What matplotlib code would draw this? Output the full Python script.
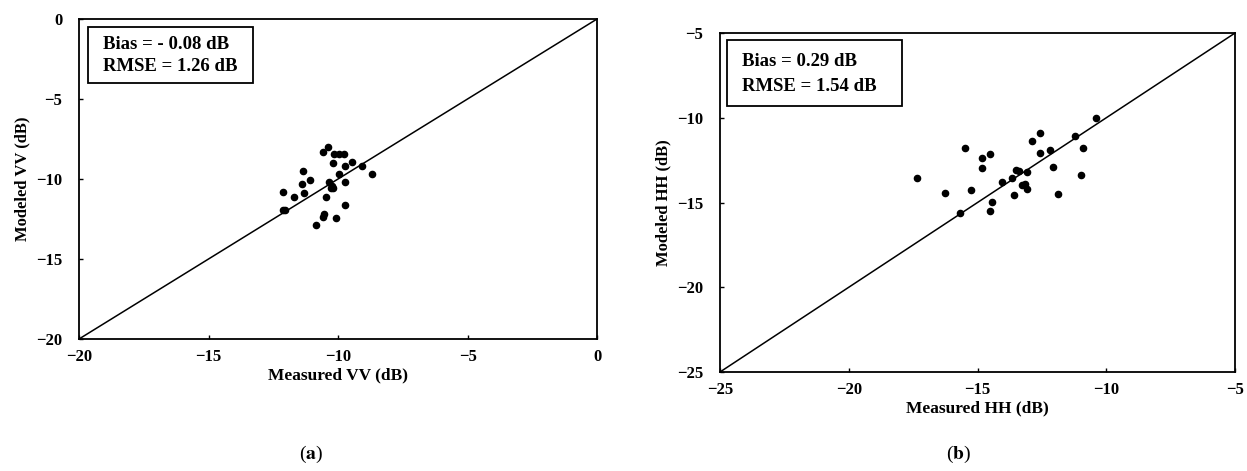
import matplotlib
matplotlib.use('Agg')
from matplotlib import pyplot as plt
from matplotlib.patches import Rectangle

plt.rcParams['font.family'] = ['Liberation Serif', 'DejaVu Serif']
plt.rcParams['mathtext.fontset'] = 'stix'

# (a) VV
vv_measured = [-10.37, -10.57, -10.15, -9.95, -9.77, -10.18, -9.46, -9.74, -9.06, -11.34,
               -9.96, -8.68, -11.08, -11.38, -10.34, -9.74, -10.24, -10.29, -10.18, -12.11,
               -11.30, -11.71, -10.48, -9.72, -12.14, -12.05, -10.53, -10.57, -10.08, -10.85]
vv_modeled = [-8.01, -8.33, -8.44, -8.44, -8.44, -9.00, -8.96, -9.21, -9.21, -9.48,
              -9.67, -9.70, -10.09, -10.33, -10.16, -10.20, -10.43, -10.58, -10.58, -10.83,
              -10.85, -11.15, -11.15, -11.61, -11.97, -11.97, -12.20, -12.37, -12.41, -12.85]

# (b) HH
hh_measured = [-17.36, -16.26, -15.48, -15.27, -14.84, -14.53, -14.84, -15.69, -14.44, -14.53,
               -14.04, -13.65, -13.52, -13.37, -13.09, -13.29, -13.17, -13.09, -13.57, -12.90,
               -12.56, -12.56, -12.19, -12.07, -11.88, -11.2, -10.9, -11.0, -10.4]
hh_modeled = [-13.56, -14.42, -11.78, -14.26, -12.40, -12.16, -12.97, -15.61, -14.95, -15.50,
              -13.77, -13.56, -13.07, -13.13, -13.19, -13.98, -13.92, -14.18, -14.57, -11.35,
              -10.92, -12.06, -11.90, -12.89, -14.48, -11.1, -11.8, -13.4, -10.0]

vv_ticks = [-20, -15, -10, -5, 0]
hh_ticks = [-25, -20, -15, -10, -5]

panels = [
    dict(x=vv_measured, y=vv_modeled, ticks=vv_ticks, xlabel='Measured VV (dB)',
         ylabel='Modeled VV (dB)', stats=['Bias = - 0.08 dB', 'RMSE = 1.26 dB'],
         rect=[0.0634, 0.2803, 0.4154, 0.6794], box=(0.017, 0.80, 0.318, 0.175),
         tag='a', tag_x=0.249),
    dict(x=hh_measured, y=hh_modeled, ticks=hh_ticks, xlabel='Measured HH (dB)',
         ylabel='Modeled HH (dB)', stats=['Bias = 0.29 dB', 'RMSE = 1.54 dB'],
         rect=[0.5774, 0.2102, 0.4130, 0.7197], box=(0.0136, 0.785, 0.34, 0.194),
         tag='b', tag_x=0.769),
]

fig = plt.figure(figsize=(12.47, 4.71), dpi=100)

for p in panels:
    ax = fig.add_axes(p['rect'])
    lo, hi = p['ticks'][0], p['ticks'][-1]
    ax.plot([lo, hi], [lo, hi], color='black', lw=1.1, zorder=2)
    ax.scatter(p['x'], p['y'], s=20, color='black', zorder=3)
    ax.set_xlim(lo, hi)
    ax.set_ylim(lo, hi)
    ax.set_xticks(p['ticks'])
    ax.set_yticks(p['ticks'])
    ax.tick_params(direction='in', length=3, width=1, labelsize=12)
    ax.tick_params(axis='x', pad=7)
    ax.tick_params(axis='y', pad=12)
    for lab in ax.get_xticklabels() + ax.get_yticklabels():
        lab.set_fontweight('bold')
    for sp in ax.spines.values():
        sp.set_linewidth(1.3)
    ax.set_xlabel(p['xlabel'], fontsize=12.5, fontweight='bold', labelpad=2)
    ax.set_ylabel(p['ylabel'], fontsize=12, fontweight='bold', labelpad=4)

    # stats box
    bx, by, bw, bh = p['box']
    ax.add_patch(Rectangle((bx, by), bw, bh, transform=ax.transAxes, fill=False,
                           lw=1.3, edgecolor='black', zorder=4))
    ax.text(bx + 0.03, by + bh * 0.68, p['stats'][0], transform=ax.transAxes,
            fontsize=13.5, fontweight='bold', va='center', zorder=5)
    ax.text(bx + 0.03, by + bh * 0.30, p['stats'][1], transform=ax.transAxes,
            fontsize=13.5, fontweight='bold', va='center', zorder=5)

    fig.text(p['tag_x'], 0.035, '($\\mathbf{%s}$)' % p['tag'], fontsize=14,
             ha='center', va='center')

plt.savefig('out.png', dpi=100)
plt.close()
